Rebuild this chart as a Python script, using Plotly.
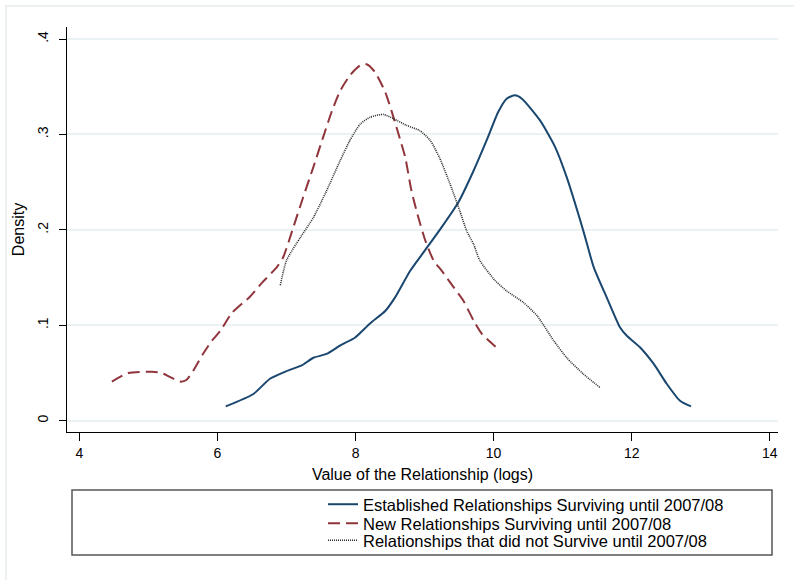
import plotly.graph_objects as go

# Established relationships surviving until 2007/08
est_x = [6.12, 6.52, 6.76, 7.00, 7.22, 7.39, 7.58, 7.78, 7.99, 8.21, 8.43, 8.57, 8.79, 9.00,
         9.22, 9.49, 9.71, 9.90, 10.07, 10.19, 10.31, 10.41, 10.67, 10.89, 11.06, 11.30,
         11.45, 11.64, 11.83, 11.93, 12.12, 12.32, 12.51, 12.70, 12.86]
est_y = [0.015, 0.028, 0.044, 0.052, 0.058, 0.066, 0.070, 0.079, 0.087, 0.102, 0.115, 0.129,
         0.157, 0.178, 0.200, 0.229, 0.262, 0.294, 0.324, 0.3375, 0.341, 0.3375, 0.315, 0.287,
         0.255, 0.199, 0.161, 0.129, 0.098, 0.089, 0.077, 0.0595, 0.0385, 0.021, 0.015]

# New relationships surviving until 2007/08
new_x = [4.47, 4.71, 5.05, 5.19, 5.31, 5.46, 5.55, 5.65, 5.79, 5.92, 6.04, 6.21, 6.47, 6.65,
         6.86, 6.95, 7.10, 7.24, 7.39, 7.53, 7.66, 7.78, 7.92, 8.07, 8.16, 8.28, 8.43, 8.52,
         8.62, 8.72, 8.81, 8.91, 9.01, 9.13, 9.25, 9.42, 9.56, 9.71, 9.83, 10.07]
new_y = [0.041, 0.050, 0.0514, 0.050, 0.046, 0.041, 0.0427, 0.0525, 0.070, 0.084, 0.094, 0.113,
         0.130, 0.145, 0.161, 0.171, 0.203, 0.234, 0.266, 0.297, 0.325, 0.346, 0.362, 0.3725,
         0.3735, 0.3655, 0.3445, 0.325, 0.301, 0.276, 0.241, 0.213, 0.189, 0.168, 0.157, 0.140,
         0.126, 0.105, 0.091, 0.075]

# Relationships that did not survive until 2007/08
dead_x = [6.91, 7.00, 7.20, 7.39, 7.58, 7.78, 7.92, 8.07, 8.21, 8.40, 8.55, 8.74, 8.93, 9.08,
          9.22, 9.37, 9.51, 9.61, 9.71, 9.80, 10.02, 10.19, 10.43, 10.63, 10.87, 11.06, 11.30, 11.54]
dead_y = [0.142, 0.168, 0.192, 0.213, 0.241, 0.273, 0.294, 0.311, 0.318, 0.321, 0.3165, 0.3095,
          0.304, 0.294, 0.275, 0.248, 0.220, 0.199, 0.185, 0.168, 0.147, 0.136, 0.124, 0.110,
          0.084, 0.066, 0.049, 0.035]

x_ticks = [4, 6, 8, 10, 12, 14]
y_ticks = [0, 0.1, 0.2, 0.3, 0.4]
y_tick_labels = ["0", ".1", ".2", ".3", ".4"]

names = ["Established Relationships Surviving until 2007/08",
         "New Relationships Surviving until 2007/08",
         "Relationships that did not Survive until 2007/08"]

FONT = "Liberation Sans, Arial, sans-serif"

# plot-area pixel geometry helpers (for legend/frame placement only)
L, R, T, B = 67, 778, 27, 432
def px_x(p):
    return (p - L) / (R - L)
def px_y(p):
    return (B - p) / (B - T)

fig = go.Figure()
fig.add_trace(go.Scatter(x=est_x, y=est_y, mode="lines", name=names[0], legend="legend",
                         line=dict(color="#1a476f", width=2, shape="spline", smoothing=0.6)))
fig.add_trace(go.Scatter(x=new_x, y=new_y, mode="lines", name=names[1], legend="legend2",
                         line=dict(color="#90353b", width=2, dash="12px,6px", shape="spline", smoothing=0.6)))
fig.add_trace(go.Scatter(x=dead_x, y=dead_y, mode="lines", name=names[2], legend="legend3",
                         line=dict(color="#2a2a2a", width=1.6, dash="1px,1px", shape="spline", smoothing=0.6)))

def leg(top_px):
    return dict(x=px_x(323), y=px_y(top_px), xanchor="left", yanchor="top",
                bgcolor="rgba(0,0,0,0)", borderwidth=0,
                font=dict(family=FONT, size=16.5, color="black"))

fig.update_layout(
    width=794, height=580,
    margin=dict(l=L, r=794 - R, t=T, b=580 - B),
    paper_bgcolor="white", plot_bgcolor="white",
    font=dict(family=FONT, size=16, color="black"),
    showlegend=True,
    legend=leg(487),
    legend2=leg(506),
    legend3=leg(523),
    xaxis=dict(
        range=[3.82, 14.12], tickmode="array", tickvals=x_ticks,
        showgrid=False, zeroline=False,
        showline=True, linecolor="black", linewidth=1.2,
        ticks="outside", ticklen=8, tickcolor="black", tickwidth=1,
        tickfont=dict(size=14),
        title=dict(text="Value of the Relationship (logs)", font=dict(size=16), standoff=8),
    ),
    yaxis=dict(
        range=[-0.0118, 0.4126], tickmode="array", tickvals=y_ticks, ticktext=y_tick_labels,
        tickangle=-90,
        showgrid=True, gridcolor="#eaf2f3", gridwidth=1.5, zeroline=False,
        showline=True, linecolor="black", linewidth=1.2,
        ticks="outside", ticklen=7, tickcolor="black", tickwidth=1,
        ticklabelstandoff=5,
        tickfont=dict(size=14),
        title=dict(text="Density", font=dict(size=16), standoff=6),
    ),
    shapes=[
        dict(type="rect", xref="paper", yref="paper",
             x0=px_x(72), x1=px_x(772), y0=px_y(555), y1=px_y(490),
             line=dict(color="#555555", width=1.5), fillcolor="rgba(0,0,0,0)", layer="below"),
        dict(type="rect", xref="paper", yref="paper",
             x0=px_x(6), x1=1.2, y0=-0.6, y1=px_y(6),
             line=dict(color="#e6ebec", width=1.5), fillcolor="rgba(0,0,0,0)", layer="below"),
    ],
)

fig.write_html("out.html")
